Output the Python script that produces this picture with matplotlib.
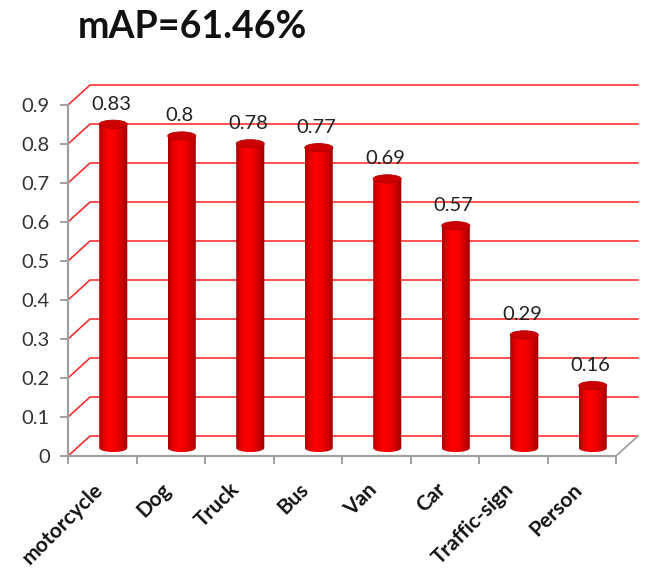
import numpy as np
import matplotlib
matplotlib.use('Agg')
import matplotlib.pyplot as plt
from matplotlib.patches import Polygon, Ellipse
from matplotlib.colors import LinearSegmentedColormap

categories = ['motorcycle', 'Dog', 'Truck', 'Bus', 'Van', 'Car', 'Traffic-sign', 'Person']
ap_values = [0.83, 0.8, 0.78, 0.77, 0.69, 0.57, 0.29, 0.16]
value_labels = ['0.83', '0.8', '0.78', '0.77', '0.69', '0.57', '0.29', '0.16']
y_ticks = [0, 0.1, 0.2, 0.3, 0.4, 0.5, 0.6, 0.7, 0.8, 0.9]
y_tick_labels = ['0', '0.1', '0.2', '0.3', '0.4', '0.5', '0.6', '0.7', '0.8', '0.9']
title = 'mAP=61.46%'

plt.rcParams['font.family'] = ['Lato', 'DejaVu Sans']

W, H = 651, 571
fig = plt.figure(figsize=(W / 100, H / 100), dpi=100)
ax = fig.add_axes([68 / W, 1 - 456 / H, 548 / W, 351 / H])
n = len(categories)
ax.set_xlim(-0.5, n - 0.5)
ax.set_ylim(0, 0.9)

# perspective offset of the back wall (data units)
dx = 22 / 68.5
dy = 20 / 390

# gridlines on side + back wall
for v in y_ticks:
    ax.plot([-0.5, -0.5 + dx, n - 0.5 + dx], [v, v + dy, v + dy],
            color='#ff2020', lw=1.1, clip_on=False, zorder=1)

# floor right edge
ax.plot([n - 0.5, n - 0.5 + dx], [0, dy], color='#a0a0a0', lw=1.3, clip_on=False, zorder=2)

cmap = LinearSegmentedColormap.from_list('cyl', [
    (0.0, '#a80000'), (0.15, '#e00000'), (0.35, '#ff0000'),
    (0.6, '#f00000'), (0.85, '#c00000'), (1.0, '#9a0000')])

bw = 0.41
eh = 0.0105
ox = dx / 2
oy = dy / 2 - 0.005
for i, v in enumerate(ap_values):
    cx = i + ox
    x0, x1 = cx - bw / 2, cx + bw / 2
    yb, yt = oy, v + oy
    t = np.linspace(np.pi, 2 * np.pi, 60)
    xs = np.concatenate([[x0], cx + bw / 2 * np.cos(t), [x1]])
    ys = np.concatenate([[yt], yb + eh * np.sin(t), [yt]])
    body = Polygon(np.column_stack([xs, ys]), closed=True, facecolor='none',
                   edgecolor='none', clip_on=False)
    ax.add_patch(body)
    im = ax.imshow(np.linspace(0, 1, 100).reshape(1, -1), cmap=cmap,
                   extent=(x0, x1, yb - eh, yt), aspect='auto', zorder=3)
    im.set_clip_path(body)
    top = Ellipse((cx, yt), bw, 2 * eh, facecolor='#cc0000',
                  edgecolor='#b00000', lw=0.6, zorder=4, clip_on=False)
    ax.add_patch(top)
    ax.text(cx - 0.03, yt + 0.03, value_labels[i], ha='center', va='bottom',
            fontsize=14.5, color='#222222', zorder=5)

ax.set_xlim(-0.5, n - 0.5)
ax.set_ylim(0, 0.9)

for s in ['top', 'right']:
    ax.spines[s].set_visible(False)
for s in ['left', 'bottom']:
    ax.spines[s].set_color('#a0a0a0')
    ax.spines[s].set_linewidth(1.6)
    ax.spines[s].set_zorder(2)

ax.set_yticks(y_ticks)
ax.set_yticklabels(y_tick_labels, fontsize=14.5, color='#333333')
ax.tick_params(axis='y', length=6, width=1.4, color='#a0a0a0', pad=7)

ax.set_xticks(np.arange(n + 1) - 0.5, minor=False)
ax.set_xticklabels([])
ax.tick_params(axis='x', length=6, width=1.4, color='#a0a0a0')
for i, c in enumerate(categories):
    ax.text(i - 0.14, -0.06, c, rotation=45, ha='right', va='top',
            rotation_mode='anchor', fontsize=15, fontweight='bold', color='#111111')

fig.text(78 / W, 1 - 27 / H, title, fontsize=27, fontweight='bold',
         ha='left', va='center', color='#111111')

fig.savefig('out.png', dpi=100)
